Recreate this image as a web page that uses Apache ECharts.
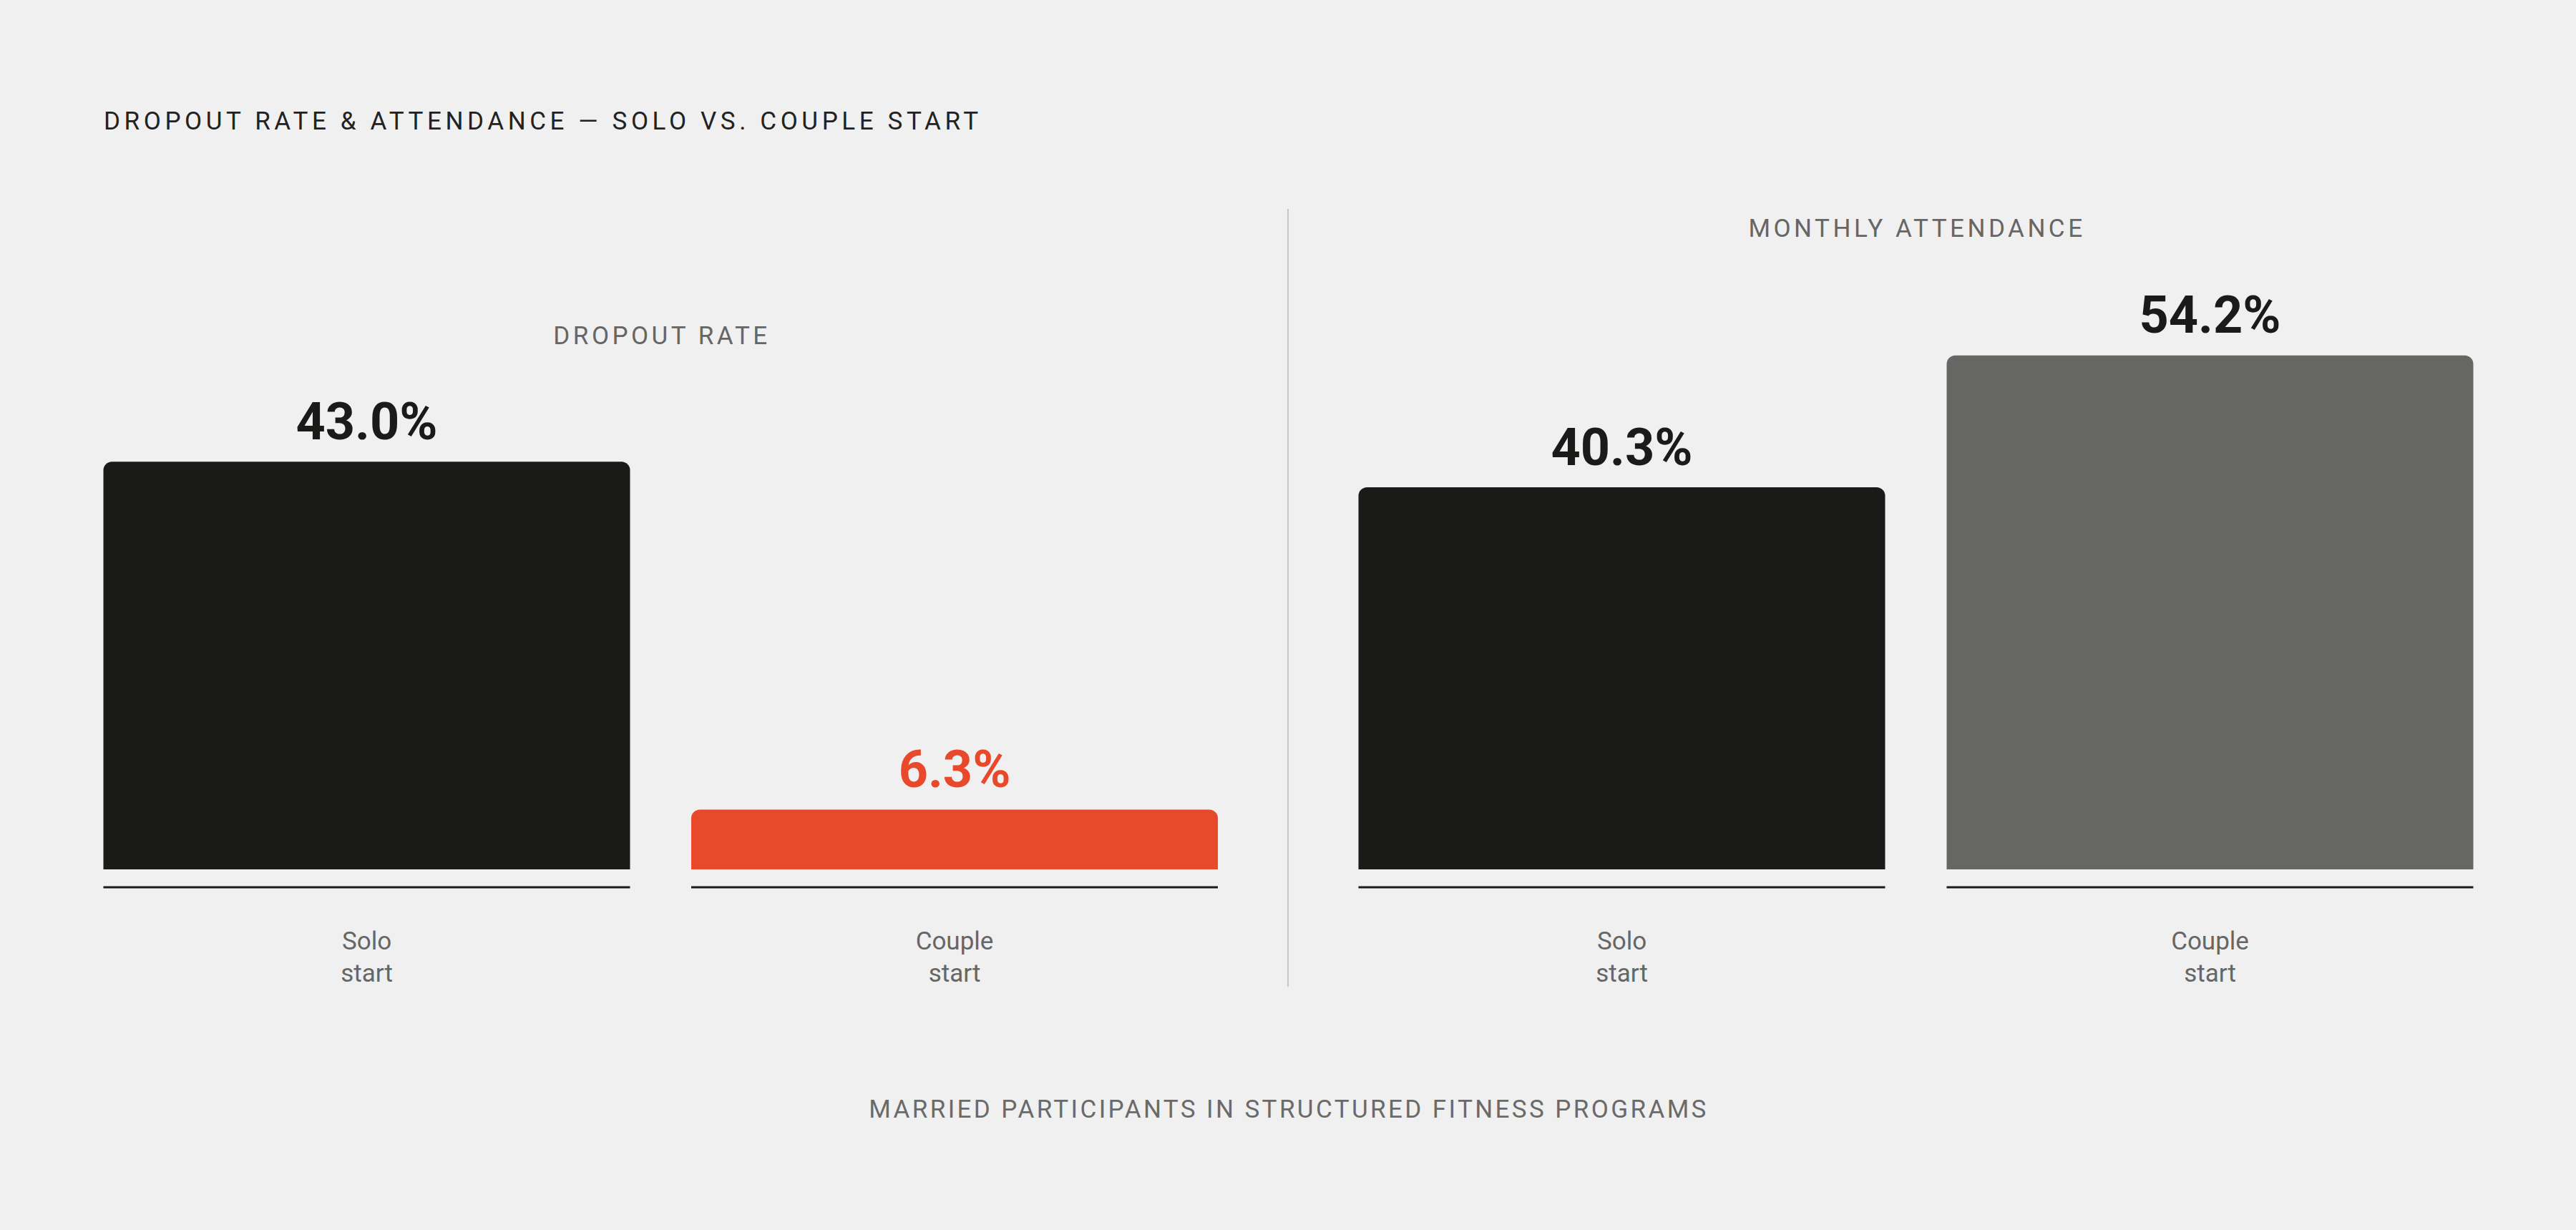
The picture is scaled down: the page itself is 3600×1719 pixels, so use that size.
<!DOCTYPE html>
<html>
<head>
<meta charset="utf-8">
<script src="https://cdn.jsdelivr.net/npm/echarts@6/dist/echarts.min.js"></script>
<style>
  html, body { margin: 0; padding: 0; background: #f0f0f0; }
  #chart { width: 3600px; height: 1719px; }
  /* spaced caps for the headings (svg text) */
  #chart text[style*="sans-serif"] { letter-spacing: 4.5px; }
  #chart text[style*="Helvetica"] { letter-spacing: 5.6px; }
  #chart text[style*="Arial"] { letter-spacing: 3.4px; }
</style>
</head>
<body>
<div id="chart"></div>
<script>
const categories = ['Solo\nstart', 'Couple\nstart'];
const dropoutRate = [43.0, 6.3];
const attendance = [40.3, 54.2];

const dropoutColors = ['#1a1a18', '#e8492b'];
const attendColors = ['#1a1a18', '#666664'];
const labelColors = ['#1a1a18', '#e8492b'];

const BAR_W = 736;
const Y_MAX = 60;
const TOP = 420;
const HEIGHT = 795;

const myChart = echarts.init(document.getElementById('chart'), null, { renderer: 'svg' });

// 柱子下方的短横线
function baseLine(params, api) {
  const p = api.coord([api.value(0), 0]);
  return {
    type: 'line',
    shape: { x1: p[0] - BAR_W / 2, y1: p[1] + 25, x2: p[0] + BAR_W / 2, y2: p[1] + 25 },
    style: { stroke: '#1a1a1a', lineWidth: 3 },
    silent: true,
  };
}

function barSeries(idx, values, colors, lblColors) {
  return {
    type: 'bar',
    xAxisIndex: idx,
    yAxisIndex: idx,
    barWidth: BAR_W,
    data: values.map((v, i) => ({
      value: v,
      itemStyle: { color: colors[i], borderRadius: [12, 12, 0, 0] },
      label: { color: lblColors[i] },
    })),
    label: {
      show: true,
      position: 'top',
      distance: 20,
      fontFamily: 'Roboto',
      fontWeight: 700,
      fontSize: 72,
      lineHeight: 72,
      formatter: (p) => p.value.toFixed(1) + '%',
    },
    silent: true,
  };
}

const xAxisBase = {
  type: 'category',
  data: categories,
  axisLine: { show: false },
  axisTick: { show: false },
  axisLabel: {
    color: '#666666',
    fontFamily: 'Roboto',
    fontSize: 35,
    lineHeight: 45,
    margin: 78,
    interval: 0,
  },
};
const yAxisBase = { type: 'value', min: 0, max: Y_MAX, show: false, splitLine: { show: false } };

const headStyle = { fontFamily: 'Roboto, sans-serif', fontSize: 35, fill: '#666666' };

const option = {
  backgroundColor: '#f0f0f0',
  animation: false,
  grid: [
    { left: 101.75, width: 1643, top: TOP, height: HEIGHT },
    { left: 1855.5, width: 1644, top: TOP, height: HEIGHT },
  ],
  xAxis: [Object.assign({ gridIndex: 0 }, xAxisBase), Object.assign({ gridIndex: 1 }, xAxisBase)],
  yAxis: [Object.assign({ gridIndex: 0 }, yAxisBase), Object.assign({ gridIndex: 1 }, yAxisBase)],
  graphic: [
    {
      type: 'text', left: 145, top: 152,
      style: Object.assign({}, headStyle, {
        text: 'DROPOUT RATE & ATTENDANCE — SOLO VS. COUPLE START',
        fontFamily: 'Roboto, Helvetica',
        fill: '#222222',
      }),
    },
    {
      type: 'text', x: 925, y: 469,
      style: Object.assign({}, headStyle, { text: 'DROPOUT RATE', align: 'center', verticalAlign: 'middle' }),
    },
    {
      type: 'text', x: 2679, y: 319,
      style: Object.assign({}, headStyle, { text: 'MONTHLY ATTENDANCE', align: 'center', verticalAlign: 'middle' }),
    },
    {
      type: 'text', x: 1801, y: 1550,
      style: Object.assign({}, headStyle, {
        text: 'MARRIED PARTICIPANTS IN STRUCTURED FITNESS PROGRAMS',
        fontFamily: 'Roboto, Arial',
        align: 'center',
        verticalAlign: 'middle',
        fill: '#6a6a6a',
      }),
    },
    {
      type: 'line',
      shape: { x1: 1800, y1: 292, x2: 1800, y2: 1379 },
      style: { stroke: '#c6c6c6', lineWidth: 2 },
    },
  ],
  series: [
    barSeries(0, dropoutRate, dropoutColors, labelColors),
    barSeries(1, attendance, attendColors, ['#1a1a18', '#1a1a18']),
    { type: 'custom', xAxisIndex: 0, yAxisIndex: 0, renderItem: baseLine, data: dropoutRate.map((v, i) => [i, v]) },
    { type: 'custom', xAxisIndex: 1, yAxisIndex: 1, renderItem: baseLine, data: attendance.map((v, i) => [i, v]) },
  ],
};

myChart.setOption(option);
window.addEventListener('resize', function () {
  myChart.resize();
});
</script>
</body>
</html>
